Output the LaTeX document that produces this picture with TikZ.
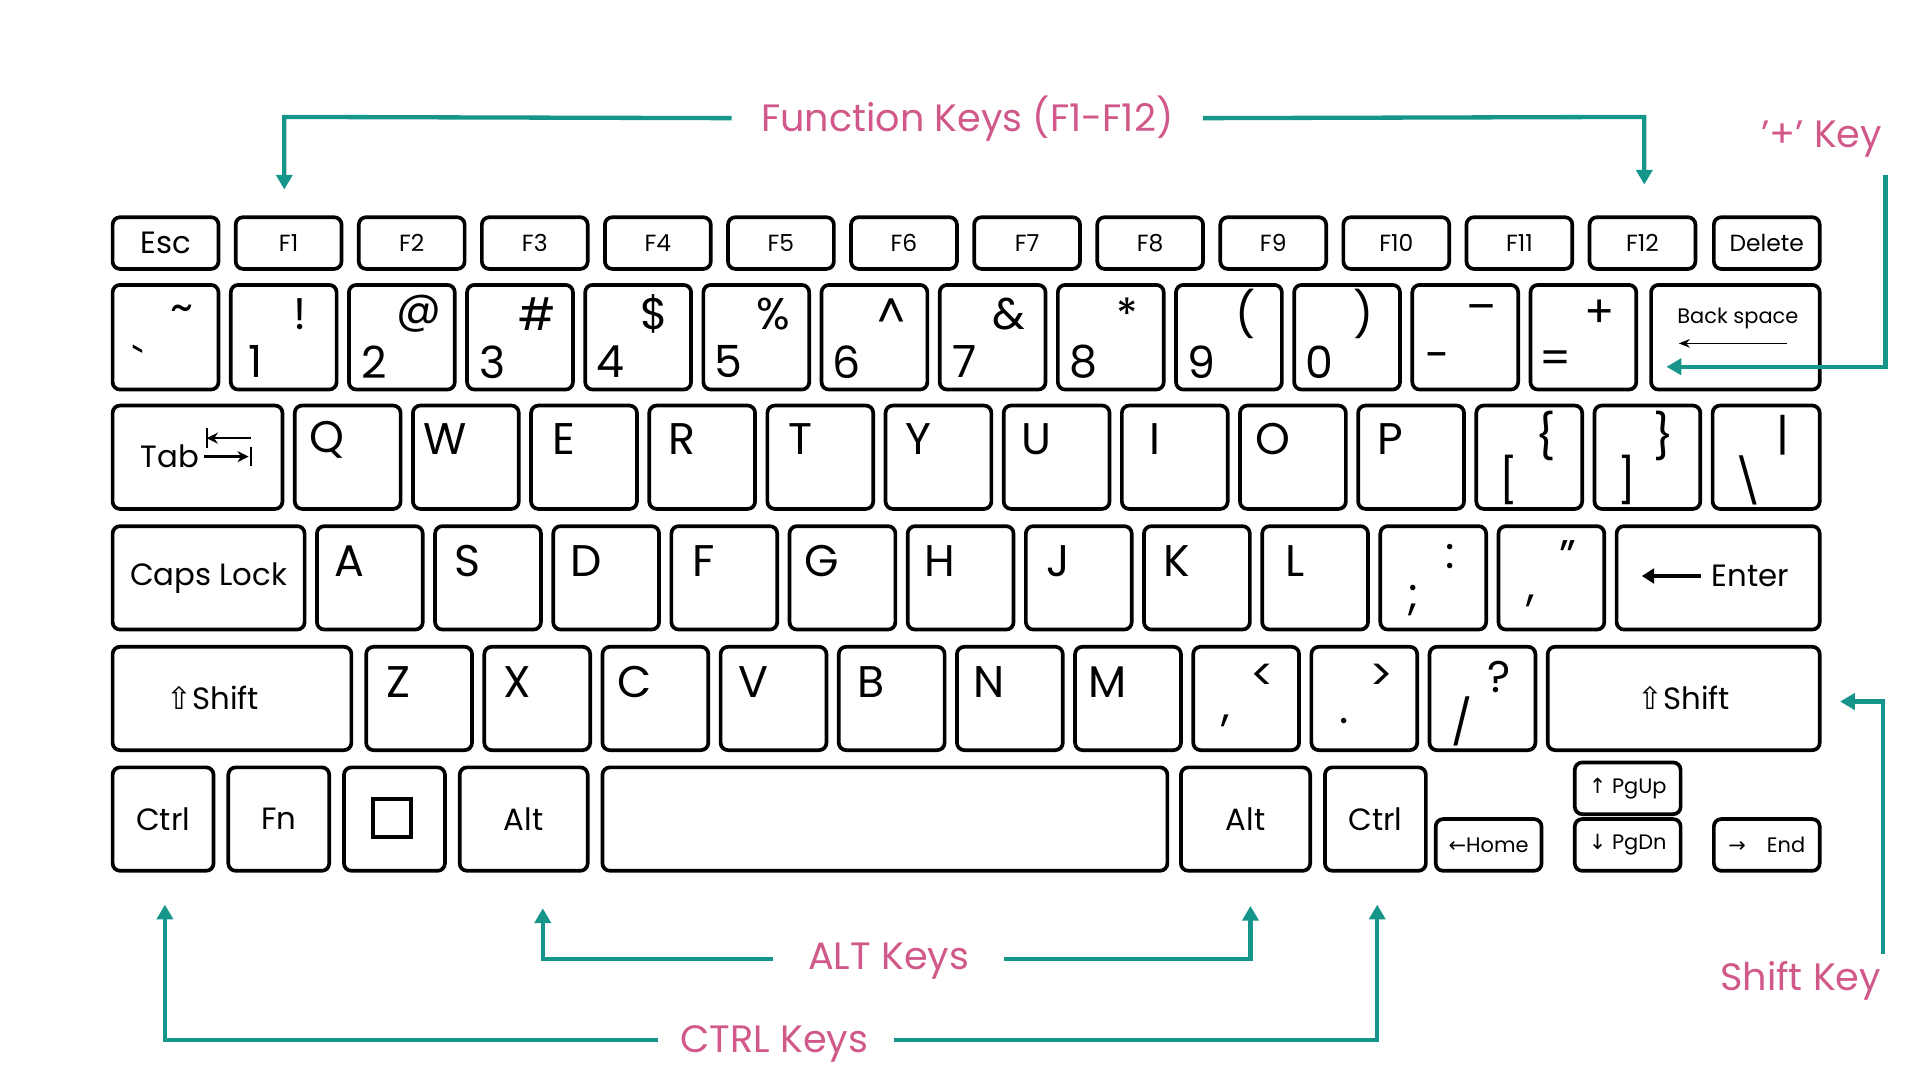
\documentclass[tikz,border=0pt]{standalone}
\usepackage{fontspec}
\setmainfont{Poppins}
\newfontfamily\symf{DejaVu Sans}
\usetikzlibrary{arrows.meta}
\definecolor{tealc}{HTML}{16968A}
\definecolor{pinkc}{HTML}{D1598A}
\begin{document}
\begin{tikzpicture}[x=1pt,y=-1pt,
  keyb/.style={draw=black,line width=3pt,rounded corners=6pt,anchor=north west,inner sep=0pt},
  big/.style={font=\fontsize{36}{36}\selectfont,inner sep=0pt},
  mid/.style={font=\fontsize{25}{25}\selectfont,inner sep=0pt},
  sml/.style={font=\fontsize{19}{19}\selectfont,inner sep=0pt},
  tiny/.style={font=\fontsize{17}{17}\selectfont,inner sep=0pt},
  lab/.style={font=\fontsize{31}{31}\selectfont,text=pinkc,inner sep=0pt},
  conn/.style={draw=tealc,line width=3.5pt,-{Triangle[length=12pt,width=13pt]}}]
\useasboundingbox (0,0) rectangle (1560,877.5);
% function row
\node[keyb,minimum width=86pt,minimum height=42pt] (esc) at (90,175) {};
\node[mid] at (esc.center) {Esc};
\foreach \i in {1,...,12}{
  \node[keyb,minimum width=86pt,minimum height=42pt] (f\i) at (90+100*\i,175) {};
  \node[sml] at (f\i.center) {F\i};}
\node[keyb,minimum width=86pt,minimum height=42pt] (del) at (1391,175) {};
\node[sml] at (del.center) {Delete};
% number row
\foreach \i/\u/\l in {0/{\textasciitilde}/{\textasciigrave},1/!/1,2/@/2,3/{\#}/3,4/{\$}/4,5/{\%}/5,6/{\textasciicircum}/6,7/{\&}/7,8/*/8,9/(/9,10/)/0,11/–/-,12/+/=}{
  \node[keyb,minimum width=86pt,minimum height=85pt] (n\i) at (90+96*\i,230) {};
  \node[big] at ([shift={(-31,25)}]n\i.north east) {\u};
  \node[big] at ([shift={(22,-24)}]n\i.south west) {\l};}
\node[keyb,minimum width=137pt,minimum height=85pt] (bks) at (1340,230) {};
\node[tiny] at (1412,259) {Back space};
\draw[line width=1.2pt,-{Stealth[length=9pt,width=7pt]}] (1452,279) -- (1364,279);
% qwerty row
\node[keyb,minimum width=138pt,minimum height=84pt] (tab) at (90,328) {};
\node[mid] at (138,371) {Tab};
\draw[line width=2pt,-{Stealth[length=9pt,width=9pt]}] (204,356) -- (168,356);
\draw[line width=2pt] (168,348) -- (168,364);
\draw[line width=2pt,-{Stealth[length=9pt,width=9pt]}] (166,371) -- (202,371);
\draw[line width=2pt] (204,363) -- (204,379);
\foreach \i/\c in {0/Q,1/W,2/E,3/R,4/T,5/Y,6/U,7/I,8/O,9/P}{
  \node[keyb,minimum width=86pt,minimum height=84pt] (q\i) at (238+96*\i,328) {};
  \node[big] at ([shift={(28,29)}]q\i.north west) {\c};}
\foreach \i/\u/\l in {10/{\{}/{[},11/{\}}/{]}}{
  \node[keyb,minimum width=86pt,minimum height=84pt] (q\i) at (238+96*\i,328) {};
  \node[big] at ([shift={(-31,26)}]q\i.north east) {\u};
  \node[big] at ([shift={(28,-25)}]q\i.south west) {\l};}
\node[keyb,minimum width=87pt,minimum height=84pt] (bsl) at (1390,328) {};
\node[big] at ([shift={(-31,26)}]bsl.north east) {|};
\node[big] at ([shift={(30,-25)}]bsl.south west) {\textbackslash};
% asdf row
\node[keyb,minimum width=156pt,minimum height=84pt] (caps) at (90,426) {};
\node[mid] at (caps.center) {Caps Lock};
\foreach \i/\c in {0/A,1/S,2/D,3/F,4/G,5/H,6/J,7/K,8/L}{
  \node[keyb,minimum width=86pt,minimum height=84pt] (a\i) at (256+96*\i,426) {};
  \node[big] at ([shift={(28,30)}]a\i.north west) {\c};}
\foreach \i/\u/\l in {9/{:}/{;},10/{”}/{,}}{
  \node[keyb,minimum width=86pt,minimum height=84pt] (a\i) at (256+96*\i,426) {};
  \node[big] at ([shift={(-31,26)}]a\i.north east) {\u};
  \node[big] at ([shift={(28,-25)}]a\i.south west) {\l};}
\node[keyb,minimum width=165pt,minimum height=84pt] (ent) at (1312,426) {};
\draw[line width=3pt,-{Triangle[length=10pt,width=12pt]}] (1382,468) -- (1334,468);
\node[mid] at (1422,468) {Enter};
% zxcv row
\node[keyb,minimum width=194pt,minimum height=84pt] (lsh) at (90,524) {};
\node[mid] at (173,567) {{\symf ⇧}Shift};
\foreach \i/\c in {0/Z,1/X,2/C,3/V,4/B,5/N,6/M}{
  \node[keyb,minimum width=86pt,minimum height=84pt] (z\i) at (296+96*\i,524) {};
  \node[big] at ([shift={(28,30)}]z\i.north west) {\c};}
\foreach \i/\u/\l in {7/{<}/{,},8/{>}/{.},9/{?}/{/}}{
  \node[keyb,minimum width=86pt,minimum height=84pt] (z\i) at (296+96*\i,524) {};
  \node[big] at ([shift={(-31,26)}]z\i.north east) {\u};
  \node[big] at ([shift={(28,-25)}]z\i.south west) {\l};}
\node[keyb,minimum width=221pt,minimum height=84pt] (rsh) at (1256,524) {};
\node[mid] at (1368,567) {{\symf ⇧}Shift};
% bottom row
\node[keyb,minimum width=82pt,minimum height=84pt] (lctrl) at (90,622) {};
\node[mid] at (lctrl.center) {Ctrl};
\node[keyb,minimum width=82pt,minimum height=84pt] (fn) at (184,622) {};
\node[mid] at (fn.center) {Fn};
\node[keyb,minimum width=82pt,minimum height=84pt] (win) at (278,622) {};
\draw[line width=3pt] (303,649) rectangle (334,680);
\node[keyb,minimum width=104pt,minimum height=84pt] (lalt) at (372,622) {};
\node[mid] at (lalt.center) {Alt};
\node[keyb,minimum width=459pt,minimum height=84pt] (space) at (488,622) {};
\node[keyb,minimum width=105pt,minimum height=84pt] (ralt) at (958,622) {};
\node[mid] at (ralt.center) {Alt};
\node[keyb,minimum width=82pt,minimum height=84pt] (rctrl) at (1075,622) {};
\node[mid] at (rctrl.center) {Ctrl};
\node[keyb,minimum width=86pt,minimum height=42pt] (home) at (1165,664) {};
\node[tiny] at (home.center) {{\symf ←}Home};
\node[keyb,minimum width=86pt,minimum height=42pt] (pgup) at (1278,618) {};
\node[tiny] at (pgup.center) {{\symf ↑} PgUp};
\node[keyb,minimum width=86pt,minimum height=42pt] (pgdn) at (1278,664) {};
\node[tiny] at (pgdn.center) {{\symf ↓} PgDn};
\node[keyb,minimum width=86pt,minimum height=42pt] (endk) at (1391,664) {};
\node[tiny] at (endk.center) {{\symf →}\quad End};
% labels and connectors
\node[lab] (lf) at (786,96) {Function Keys (F1-F12)};
\draw[conn] ([xshift=-24pt]lf.west) -- (231,95) -- (231,154);
\draw[conn] ([xshift=24pt]lf.east) -- (1336,95) -- (1336,150);
\node[lab] (lp) at (1480,113) {'+' Key};
\draw[conn] (1532,142) -- (1532,298) -- (1354,298);
\node[lab] (ls) at (1463,797) {Shift Key};
\draw[conn] (1530,775) -- (1530,570) -- (1495,570);
\node[lab] (la) at (722,781) {ALT Keys};
\draw[conn] (628,779) -- (441,779) -- (441,738);
\draw[conn] (816,779) -- (1016,779) -- (1016,736);
\node[lab] (lc) at (629,848) {CTRL Keys};
\draw[conn] (535,845) -- (134,845) -- (134,735);
\draw[conn] (726,845) -- (1119,845) -- (1119,735);
\end{tikzpicture}
\end{document}
